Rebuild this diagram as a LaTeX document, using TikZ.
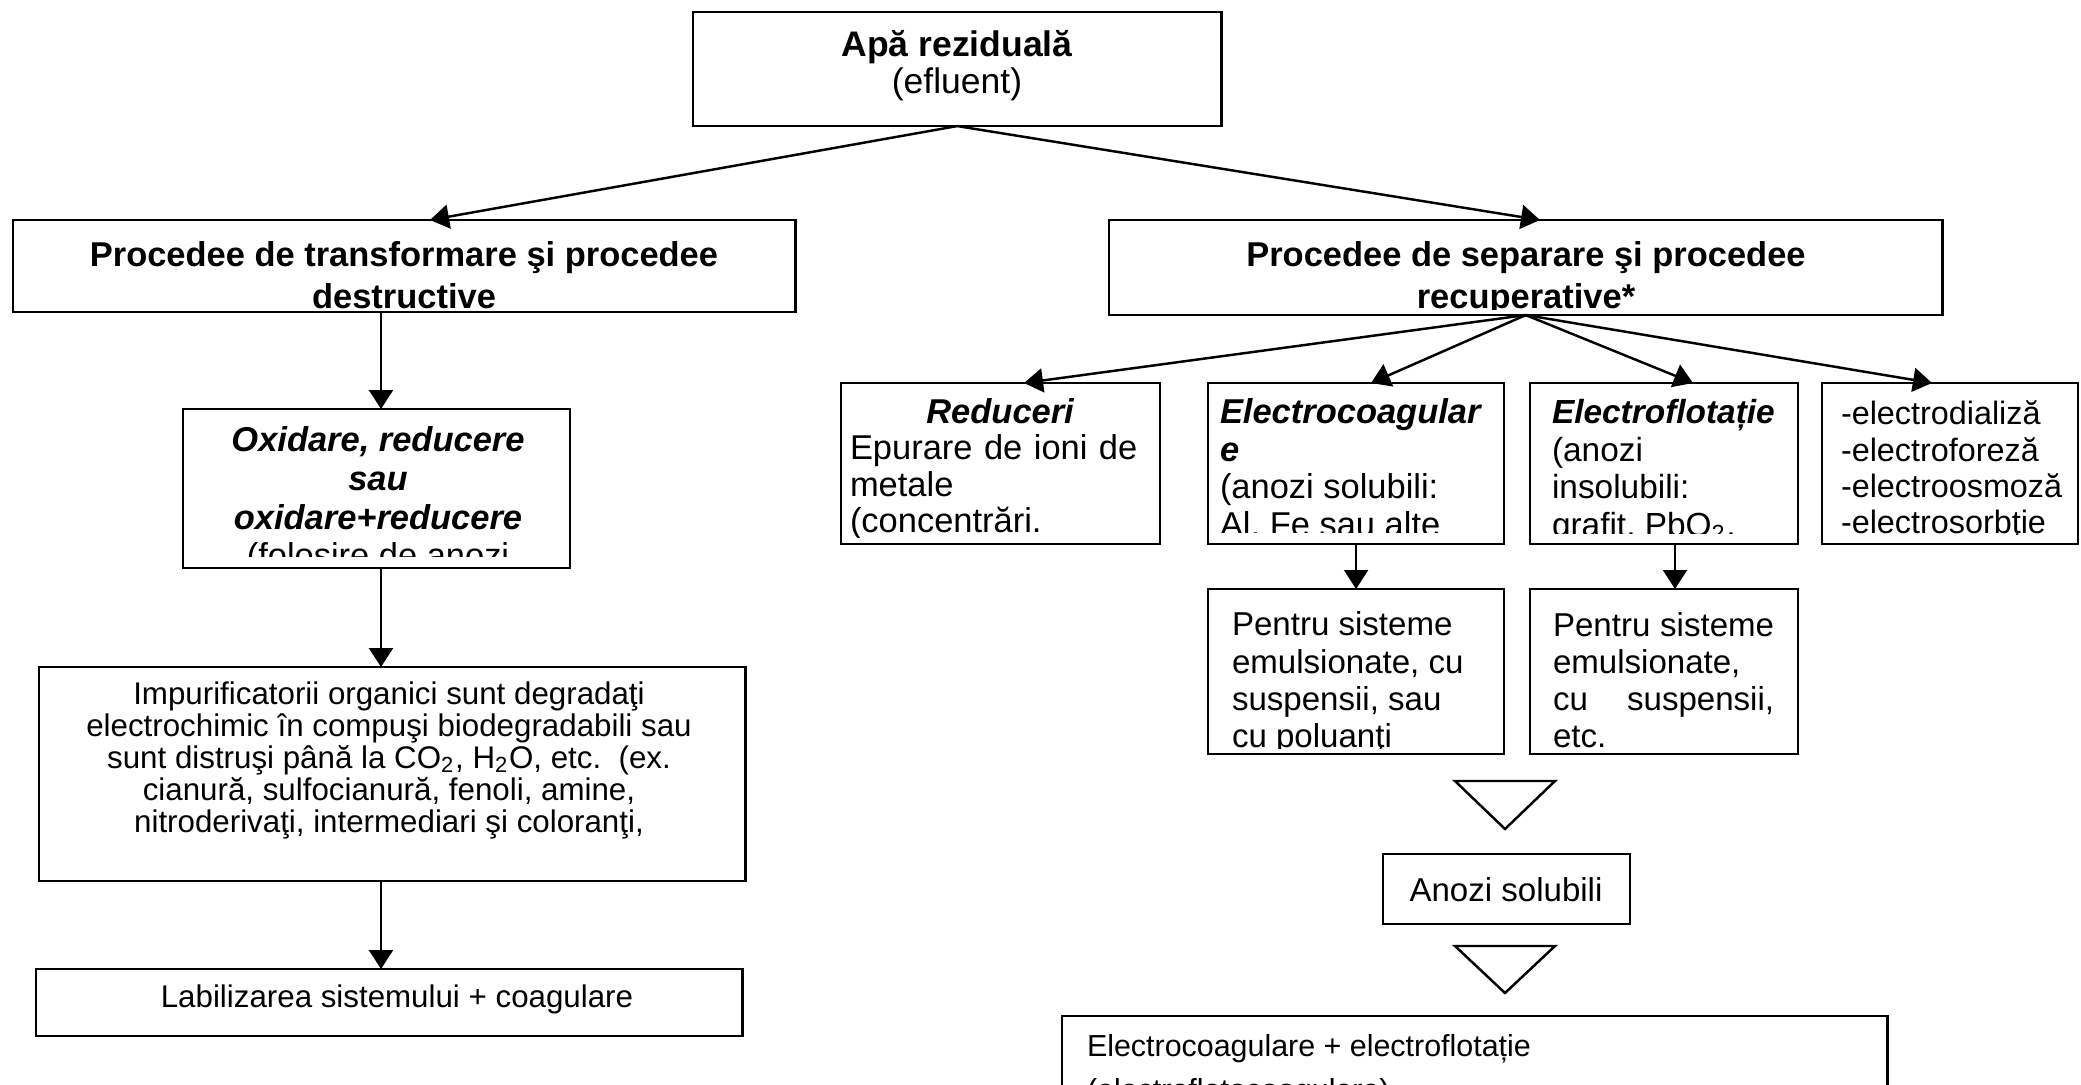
\documentclass[tikz,border=0pt]{standalone}
\usepackage{fontspec}
\setmainfont{Liberation Sans}
\usetikzlibrary{arrows.meta}

\tikzset{
  frame/.style={draw, line width=0.7pt, inner sep=0pt, outer sep=0pt, anchor=north west},
  link/.style={line width=0.7pt, -{Triangle[length=5.4pt,width=6.8pt]}},
  txt/.style={inner sep=0pt, outer sep=0pt},
  fbig/.style={font=\fontsize{9.8}{10.67}\selectfont},
  fmid/.style={font=\fontsize{9.4}{10.58}\selectfont},
  fsmall/.style={font=\fontsize{8.9}{9.1}\selectfont},
}

\begin{document}
\begin{tikzpicture}[x=0.01cm, y=-0.01cm]
\useasboundingbox (0,0) rectangle (2081,1084);
\clip (0,0) rectangle (2081,1084);
\fill[white] (0,0) rectangle (2081,1084);

% ---------- boxes ----------
\node[frame, minimum width=5.28cm, minimum height=1.14cm] (src) at (693,12) {};
\node[frame, minimum width=7.82cm, minimum height=0.92cm] (dest) at (13,220) {};
\node[frame, minimum width=8.33cm, minimum height=0.95cm] (sep) at (1109,220) {};
\node[frame, minimum width=3.87cm, minimum height=1.59cm] (oxi) at (183,409) {};
\node[frame, minimum width=7.06cm, minimum height=2.14cm] (imp) at (39,667) {};
\node[frame, minimum width=7.06cm, minimum height=0.67cm] (lab) at (36,969) {};
\node[frame, minimum width=3.19cm, minimum height=1.61cm] (red) at (841,383) {};
\node[frame, minimum width=2.96cm, minimum height=1.61cm] (ecoag) at (1208,383) {};
\node[frame, minimum width=2.68cm, minimum height=1.61cm] (eflot) at (1530,383) {};
\node[frame, minimum width=2.56cm, minimum height=1.61cm] (edial) at (1822,383) {};
\node[frame, minimum width=2.96cm, minimum height=1.65cm] (pen1) at (1208,589) {};
\node[frame, minimum width=2.68cm, minimum height=1.65cm] (pen2) at (1530,589) {};
\node[frame, minimum width=2.47cm, minimum height=0.70cm] (anozi) at (1383,854) {};
\node[frame, minimum width=8.25cm, minimum height=2.00cm] (bot) at (1062,1016) {};

% ---------- texts (multi-line nodes without text width sit on their last baseline) ----------
\node[txt, anchor=base, align=center, font=\fontsize{10.1}{10.5}\selectfont] (src-t) at (957,93)
  {{\bfseries Apă reziduală}\\(efluent)};
\node[txt, anchor=base, align=center, font=\bfseries\fontsize{9.8}{11.7}\selectfont] (dest-t) at (404,308)
  {Procedee de transformare şi procedee\\destructive};
\begin{scope}
  \clip (1109,220) rectangle (1942,309);
  \node[txt, anchor=base, align=center, font=\bfseries\fontsize{9.8}{11.7}\selectfont] (sep-t) at (1526,308)
    {Procedee de separare şi procedee\\recuperative*};
\end{scope}
\begin{scope}
  \clip (183,409) rectangle (570,556);
  \node[txt, anchor=base, align=center, font=\fontsize{9.8}{10.95}\selectfont] (oxi-t) at (378,567.5)
    {{\bfseries\itshape Oxidare, reducere}\\{\bfseries\itshape sau}\\{\bfseries\itshape oxidare+reducere}\\(folosire de anozi};
\end{scope}
\node[txt, fsmall, anchor=base, align=center] (imp-t) at (389,832)
  {Impurificatorii organici sunt degradaţi\\
   electrochimic în compuşi biodegradabili sau\\
   sunt distruşi până la CO\textsubscript{2}, H\textsubscript{2}O, etc.\ \ (ex.\\
   cianură, sulfocianură, fenoli, amine,\\
   nitroderivaţi, intermediari şi coloranţi,};
\node[txt, fsmall, anchor=base] (lab-t) at (397,1007) {Labilizarea sistemului + coagulare};

\begin{scope}
  \clip (841,383) rectangle (1160,537);
  \node[txt, font=\fontsize{9.8}{10.4}\selectfont, anchor=base west, text width=3.0cm, align=left] (red-t) at (850,423)
    {\hfill{\bfseries\itshape Reduceri}\hfill\null\\Epurare de ioni de\\metale\\(concentrări.};
\end{scope}
\begin{scope}
  \clip (1208,383) rectangle (1504,532);
  \node[txt, fbig, anchor=base west, align=left] (ecoag-t) at (1220,536.5)
    {{\bfseries\itshape Electrocoagular}\\{\bfseries\itshape e}\\(anozi solubili:\\Al, Fe sau alte};
\end{scope}
\begin{scope}
  \clip (1530,383) rectangle (1798,533);
  \node[txt, anchor=base west, align=left, font=\fontsize{9.5}{10.67}\selectfont] (eflot-t) at (1552,536.5)
    {{\bfseries\itshape Electroflotație}\\(anozi\\insolubili:\\grafit, PbO\textsubscript{2},};
\end{scope}
\begin{scope}
  \clip (1822,383) rectangle (2078,534);
  \node[txt, anchor=base west, align=left, font=\fontsize{9.2}{10.3}\selectfont] (edial-t) at (1841,533.5)
    {-electrodializă\\-electroforeză\\-electroosmoză\\-electrosorbţie};
\end{scope}
\begin{scope}
  \clip (1208,589) rectangle (1504,748.5);
  \node[txt, fmid, anchor=base west, align=left] (pen1-t) at (1232,747.6)
    {Pentru sisteme\\emulsionate, cu\\suspensii, sau\\cu poluanţi};
\end{scope}
\begin{scope}
  \clip (1530,589) rectangle (1798,748.5);
  \node[txt, fmid, anchor=base west, text width=2.21cm, align=left] (pen2-t) at (1553,636)
    {Pentru\hfill sisteme\\emulsionate,\\cu\hfill suspensii,\\etc.};
\end{scope}
\node[txt, fmid, anchor=base] (anozi-t) at (1506,901) {Anozi solubili};
\node[txt, anchor=base west, align=left, font=\fontsize{8.65}{12.4}\selectfont] (bot-t) at (1087,1100)
  {Electrocoagulare + electroflotație\\(electroflotocoagulare)};

% ---------- open triangles between the lower boxes ----------
\draw[line width=0.7pt] (1455,781) -- (1555,781) -- (1505,829) -- cycle;
\draw[line width=0.7pt] (1455,946) -- (1555,946) -- (1505,993) -- cycle;

% ---------- connectors ----------
\coordinate (destin) at (430,220);
\coordinate (sepin) at (1540,220);
\draw[link] (src.south) -- (destin);
\draw[link] (src.south) -- (sepin);

\coordinate (col) at (381,0);
\draw[link] (col |- dest.south) -- (col |- oxi.north);
\draw[link] (col |- oxi.south) -- (col |- imp.north);
\draw[link] (col |- imp.south) -- (col |- lab.north);

\coordinate (redin) at (1024,383);
\coordinate (ecoagin) at (1371,383);
\coordinate (eflotin) at (1693,383);
\coordinate (edialin) at (1932,383);
\draw[link] (sep.south) -- (redin);
\draw[link] (sep.south) -- (ecoagin);
\draw[link] (sep.south) -- (eflotin);
\draw[link] (sep.south) -- (edialin);

\coordinate (eflotout) at (1675,544);
\draw[link] (ecoag.south) -- (pen1.north);
\draw[link] (eflotout) -- (eflotout |- pen2.north);
\end{tikzpicture}
\end{document}
